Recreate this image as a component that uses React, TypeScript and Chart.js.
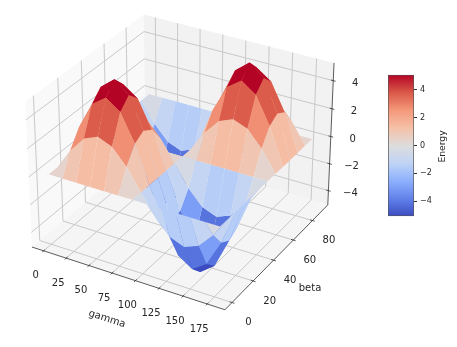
import React, { useEffect, useRef } from "react";
import Chart from "chart.js/auto";

const gammaValues = [0, 15, 30, 45, 60, 75, 90, 105, 120, 135, 150, 165, 180];
const betaValues = [0, 7.5, 15, 22.5, 30, 37.5, 45, 52.5, 60, 67.5, 75, 82.5, 90];
// surface height, one row per beta, one column per gamma
const energyRows = [
  [0, 0, 0, 0, 0, 0, 0, 0, 0, 0, 0, 0, 0],
  [0, 1.5, 2.6, 3.0, 2.6, 1.5, 0, -1.48, -2.55, -2.95, -2.55, -1.48, 0],
  [0, 2.6, 4.5, 5.2, 4.5, 2.6, 0, -2.55, -4.42, -5.11, -4.42, -2.55, 0],
  [0, 3.0, 5.2, 6.0, 5.2, 3.0, 0, -2.95, -5.11, -5.9, -5.11, -2.95, 0],
  [0, 2.6, 4.5, 5.2, 4.5, 2.6, 0, -2.55, -4.42, -5.11, -4.42, -2.55, 0],
  [0, 1.5, 2.6, 3.0, 2.6, 1.5, 0, -1.48, -2.55, -2.95, -2.55, -1.48, 0],
  [0, 0, 0, 0, 0, 0, 0, 0, 0, 0, 0, 0, 0],
  [0, -1.48, -2.55, -2.95, -2.55, -1.48, 0, 1.5, 2.6, 3.0, 2.6, 1.5, 0],
  [0, -2.55, -4.42, -5.11, -4.42, -2.55, 0, 2.6, 4.5, 5.2, 4.5, 2.6, 0],
  [0, -2.95, -5.11, -5.9, -5.11, -2.95, 0, 3.0, 5.2, 6.0, 5.2, 3.0, 0],
  [0, -2.55, -4.42, -5.11, -4.42, -2.55, 0, 2.6, 4.5, 5.2, 4.5, 2.6, 0],
  [0, -1.48, -2.55, -2.95, -2.55, -1.48, 0, 1.5, 2.6, 3.0, 2.6, 1.5, 0],
  [0, 0, 0, 0, 0, 0, 0, 0, 0, 0, 0, 0, 0],
];
const gammaTicks = [0, 25, 50, 75, 100, 125, 150, 175];
const betaTicks = [0, 20, 40, 60, 80];
const zTicks = [-4, -2, 0, 2, 4];
const colorbarTicks = [-4, -2, 0, 2, 4];
const gammaLim = [-13.1, 193.1];
const betaLim = [-6.56, 96.56];
const zLim = [-5.08, 5.24];
const colorLim = [-5.07, 5.07];
const positiveTop = 5.22;
const negativeTop = 4.58;

const coolwarmStops: [number, number[]][] = [
  [0, [59, 76, 192]],
  [0.125, [98, 130, 234]],
  [0.25, [141, 176, 254]],
  [0.375, [192, 212, 245]],
  [0.5, [221, 220, 220]],
  [0.625, [245, 192, 167]],
  [0.75, [244, 152, 122]],
  [0.875, [217, 88, 71]],
  [1, [180, 4, 38]],
];

function coolwarm(t: number) {
  const v = Math.min(1, Math.max(0, t));
  for (let k = 1; k < coolwarmStops.length; k++) {
    const [t1, c1] = coolwarmStops[k];
    const [t0, c0] = coolwarmStops[k - 1];
    if (v <= t1) {
      const f = (v - t0) / (t1 - t0);
      const c = c0.map((a, n) => Math.round(a + (c1[n] - a) * f));
      return `rgb(${c[0]},${c[1]},${c[2]})`;
    }
  }
  return "rgb(180,4,38)";
}

const boxXY = 1.1428;
const boxZ = 0.857;
const scale3d = 193.5;
const centerX = 182.5;
const centerY = 155.3;

function fracProject(xf: number, yf: number, zf: number) {
  const qx = (xf - 0.5) * boxXY;
  const qy = (yf - 0.5) * boxXY;
  const qz = (zf - 0.5) * boxZ;
  const xv = 0.866 * qx + 0.5 * qy;
  const yv = -0.25 * qx + 0.433 * qy + 0.866 * qz;
  const nv = 0.433 * qx - 0.75 * qy + 0.5 * qz;
  const w = 1 - nv / 10;
  return { x: centerX + (scale3d * xv) / w, y: centerY - (scale3d * yv) / w, depth: nv };
}
const gf = (g: number) => (g - gammaLim[0]) / (gammaLim[1] - gammaLim[0]);
const bf = (b: number) => (b - betaLim[0]) / (betaLim[1] - betaLim[0]);
const zf = (z: number) => (z - zLim[0]) / (zLim[1] - zLim[0]);
const project = (g: number, b: number, z: number) => fracProject(gf(g), bf(b), zf(z));

const line = (pts: { x: number; y: number }[], color: string, width: number, order: number) => ({
  type: "scatter" as const,
  data: pts.map((p) => ({ x: p.x, y: p.y })),
  showLine: true,
  fill: false,
  borderColor: color,
  borderWidth: width,
  pointRadius: 0,
  order,
});
const shape = (pts: { x: number; y: number }[], color: string, order: number) => ({
  type: "scatter" as const,
  data: [...pts, pts[0]].map((p) => ({ x: p.x, y: p.y })),
  showLine: true,
  fill: "shape",
  backgroundColor: color,
  borderColor: "rgba(0,0,0,0)",
  borderWidth: 0,
  pointRadius: 0,
  order,
});

function buildDatasets() {
  const sets: any[] = [];
  // panes
  sets.push(shape([fracProject(0, 0, 0), fracProject(0, 1, 0), fracProject(0, 1, 1), fracProject(0, 0, 1)], "rgb(249,249,249)", 100000));
  sets.push(shape([fracProject(0, 1, 0), fracProject(1, 1, 0), fracProject(1, 1, 1), fracProject(0, 1, 1)], "rgb(242,242,242)", 99999));
  sets.push(shape([fracProject(0, 0, 0), fracProject(1, 0, 0), fracProject(1, 1, 0), fracProject(0, 1, 0)], "rgb(245,245,245)", 99998));
  const gridColor = "#c9c9c9";
  gammaTicks.forEach((g) =>
    sets.push(line([fracProject(gf(g), 0, 0), fracProject(gf(g), 1, 0), fracProject(gf(g), 1, 1)], gridColor, 1, 99000))
  );
  betaTicks.forEach((b) =>
    sets.push(line([fracProject(1, bf(b), 0), fracProject(0, bf(b), 0), fracProject(0, bf(b), 1)], gridColor, 1, 99000))
  );
  zTicks.forEach((z) =>
    sets.push(line([fracProject(0, 0, zf(z)), fracProject(0, 1, zf(z)), fracProject(1, 1, zf(z))], gridColor, 1, 99000))
  );
  // axis lines and tick marks
  const axisColor = "#333333";
  sets.push(line([fracProject(0, 0, 0), fracProject(1, 0, 0), fracProject(1, 1, 0), fracProject(1, 1, 1)], axisColor, 0.8, 98000));
  gammaTicks.forEach((g) =>
    sets.push(line([fracProject(gf(g), 0.012, 0), fracProject(gf(g), -0.012, 0)], axisColor, 0.8, 98000))
  );
  betaTicks.forEach((b) =>
    sets.push(line([fracProject(0.988, bf(b), 0), fracProject(1.012, bf(b), 0)], axisColor, 0.8, 98000))
  );
  zTicks.forEach((z) =>
    sets.push(line([fracProject(0.988, 1, zf(z)), fracProject(1.012, 1, zf(z))], axisColor, 0.8, 98000))
  );
  // surface facets, farthest first
  const cells: { pts: any[]; depth: number; mean: number }[] = [];
  for (let j = 0; j < betaValues.length - 1; j++) {
    for (let i = 0; i < gammaValues.length - 1; i++) {
      const corners: [number, number][] = [
        [i, j],
        [i + 1, j],
        [i + 1, j + 1],
        [i, j + 1],
      ];
      const pts = corners.map(([a, b]) => project(gammaValues[a], betaValues[b], energyRows[b][a]));
      const mean = corners.reduce((s, [a, b]) => s + energyRows[b][a], 0) / 4;
      const depth = pts.reduce((s, p) => s + p.depth, 0) / 4;
      cells.push({ pts, depth, mean });
    }
  }
  cells.sort((a, b) => a.depth - b.depth);
  cells.forEach((c, k) => {
    const v = c.mean >= 0 ? c.mean / positiveTop : c.mean / negativeTop;
    sets.push(shape(c.pts, coolwarm((v + 1) / 2), 5000 - k));
  });
  return sets;
}

const minus = (v: number) => (v < 0 ? "\u2212" + -v : String(v));

const labelPlugin = {
  id: "labels3d",
  afterDraw(chart: any) {
    const ctx = chart.ctx;
    const sx = chart.scales.x;
    const sy = chart.scales.y;
    const put = (text: string, px: number, py: number, size: number, rot = 0) => {
      ctx.save();
      ctx.translate(sx.getPixelForValue(px), sy.getPixelForValue(py));
      ctx.rotate(rot);
      ctx.font = `${size}px "DejaVu Sans"`;
      ctx.fillStyle = "#262626";
      ctx.textAlign = "center";
      ctx.textBaseline = "middle";
      ctx.fillText(text, 0, 0);
      ctx.restore();
    };
    gammaTicks.forEach((g) => {
      const p = fracProject(gf(g), 0, 0);
      put(String(g), p.x - 8, p.y + 25, 10);
    });
    betaTicks.forEach((b) => {
      const p = fracProject(1, bf(b), 0);
      put(String(b), p.x + 16.5, p.y + 20, 10);
    });
    zTicks.forEach((z) => {
      const p = fracProject(1, 1, zf(z));
      put(minus(z), p.x + 22, p.y + 3, 10);
    });
    put("gamma", 107, 319, 10, 0.31);
    put("beta", 310, 288, 10, 0);
  },
};

const energyTitlePlugin = {
  id: "energyTitle",
  afterDraw(chart: any) {
    const ctx = chart.ctx;
    const area = chart.chartArea;
    ctx.save();
    ctx.translate(area.right + 29, (area.top + area.bottom) / 2 + 1);
    ctx.rotate(-Math.PI / 2);
    ctx.font = '9.2px "DejaVu Sans"';
    ctx.fillStyle = "#262626";
    ctx.textAlign = "center";
    ctx.textBaseline = "middle";
    ctx.fillText("Energy", 0, 0);
    ctx.restore();
  },
};

export default function App() {
  const mainRef = useRef<HTMLCanvasElement>(null);
  const barRef = useRef<HTMLCanvasElement>(null);
  useEffect(() => {
    document.body.style.margin = "0";
    const main = new Chart(mainRef.current!, {
      type: "scatter",
      data: { datasets: buildDatasets() },
      plugins: [labelPlugin],
      options: {
        animation: false,
        responsive: false,
        layout: { padding: 0 },
        plugins: { legend: { display: false }, tooltip: { enabled: false } },
        elements: { line: { tension: 0 } },
        scales: {
          x: { type: "linear", min: 0, max: 457, display: false },
          y: { type: "linear", min: 0, max: 347, reverse: true, display: false },
        },
      },
    } as any);
    const bar = new Chart(barRef.current!, {
      type: "bar",
      data: {
        labels: ["Energy"],
        datasets: [
          {
            data: [[colorLim[0], colorLim[1]]],
            barPercentage: 1,
            categoryPercentage: 1,
            borderWidth: 1,
            borderColor: "#555555",
            borderSkipped: false,
            backgroundColor: (c: any) => {
              const area = c.chart.chartArea;
              if (!area) return "#dddcdc";
              const g = c.chart.ctx.createLinearGradient(0, area.bottom, 0, area.top);
              coolwarmStops.forEach(([t]) => g.addColorStop(t, coolwarm(t)));
              return g;
            },
          },
        ],
      },
      plugins: [energyTitlePlugin],
      options: {
        animation: false,
        responsive: false,
        layout: { padding: { top: 2, bottom: 1, left: 1, right: 0 } },
        plugins: { legend: { display: false }, tooltip: { enabled: false } },
        scales: {
          x: { display: false },
          y: {
            position: "right",
            min: colorLim[0],
            max: colorLim[1],
            afterFit: (s: any) => {
              s.width = 35;
            },
            border: { display: false },
            grid: { drawOnChartArea: false, drawTicks: true, tickLength: 3, color: "#333333" },
            ticks: {
              includeBounds: false,
              stepSize: 2,
              padding: 3,
              color: "#262626",
              font: { family: "DejaVu Sans", size: 8 },
              callback: (v: any) => (colorbarTicks.includes(v) ? minus(v) : ""),
            },
          },
        },
      },
    } as any);
    return () => {
      main.destroy();
      bar.destroy();
    };
  }, []);
  return (
    <div style={{ position: "fixed", left: 0, top: 0, width: 457, height: 347, background: "#fff" }}>
      <canvas ref={mainRef} width={457} height={347} style={{ position: "absolute", left: 0, top: 0, width: 457, height: 347, filter: "blur(0.55px)" }} />
      <canvas ref={barRef} width={62} height={157} style={{ position: "absolute", left: 387, top: 67, width: 62, height: 157, filter: "blur(0.55px)" }} />
    </div>
  );
}
